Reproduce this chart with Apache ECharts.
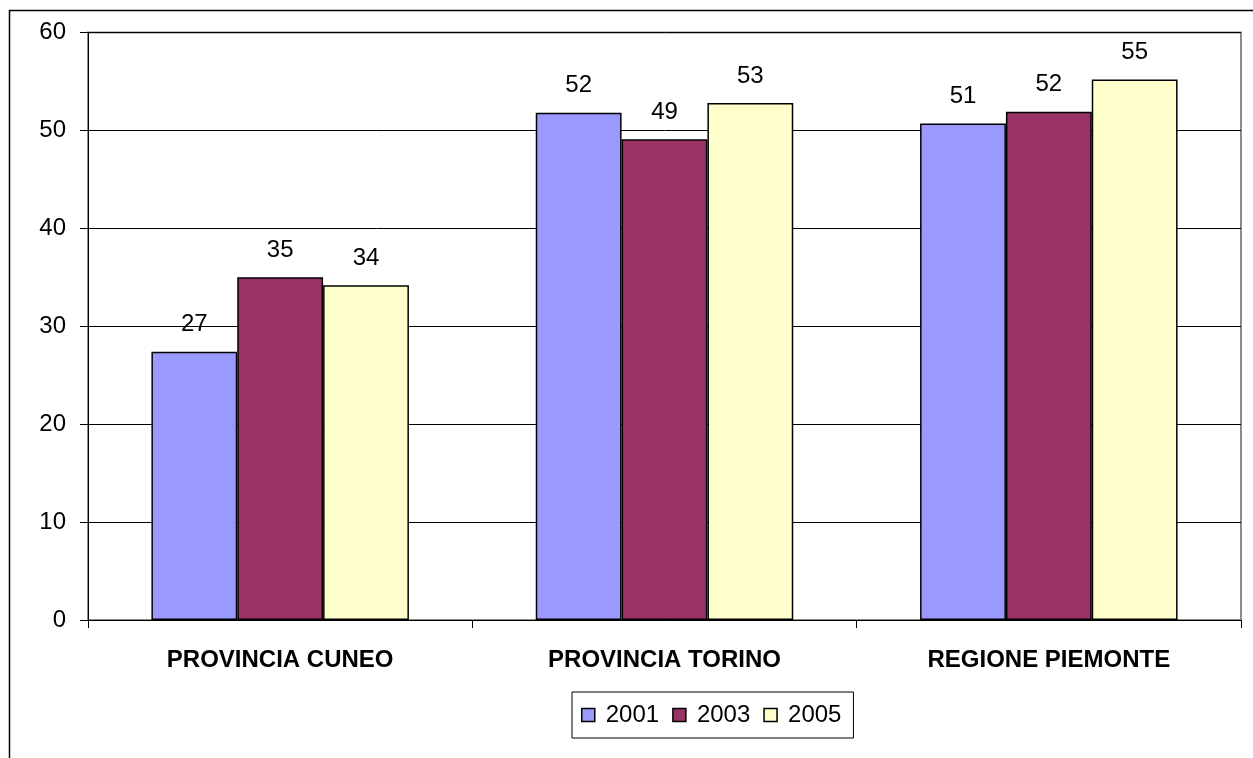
<!DOCTYPE html>
<html>
<head>
<meta charset="utf-8">
<script src="https://cdn.jsdelivr.net/npm/echarts@6/dist/echarts.min.js"></script>
<style>
  html, body { margin: 0; padding: 0; background: #fff; }
  #chart { width: 1253px; height: 758px; }
</style>
</head>
<body>
<div id="chart"></div>
<script>
// Categories and yearly values
const categories = ['PROVINCIA CUNEO', 'PROVINCIA TORINO', 'REGIONE PIEMONTE'];
const years = ['2001', '2003', '2005'];
const values2001 = [27.4, 51.8, 50.7];
const values2003 = [35.0, 49.1, 51.9];
const values2005 = [34.2, 52.8, 55.2];
const yTicks = [0, 10, 20, 30, 40, 50, 60];

const colors = ['#9999FF', '#993366', '#FFFFCC'];
const seriesValues = [values2001, values2003, values2005];
const FONT = '"Liberation Sans", Arial, sans-serif';

const chart = echarts.init(document.getElementById('chart'), null, { renderer: 'canvas' });

const series = years.map((y, i) => ({
  name: y,
  type: 'bar',
  data: seriesValues[i],
  barGap: '0%',
  barCategoryGap: '33%',
  itemStyle: { color: colors[i], borderColor: '#000', borderWidth: 1.5 },
  label: {
    show: true,
    position: 'top',
    distance: 15,
    formatter: p => Math.round(p.value).toString(),
    fontFamily: FONT,
    fontSize: 24,
    color: '#000'
  }
}));

chart.setOption({
  animation: false,
  backgroundColor: '#fff',
  graphic: [{
    // outer chart frame
    type: 'rect',
    shape: { x: 9.5, y: 10.5, width: 1260, height: 770 },
    style: { fill: 'none', stroke: '#000', lineWidth: 1.5 },
    z: -10
  }],
  grid: {
    left: 88, right: 12, top: 32.5, bottom: 138,
    show: true, borderColor: '#8c8c8c', borderWidth: 2, backgroundColor: 'transparent'
  },
  legend: {
    data: years,
    left: 572, top: 692,
    padding: [11, 12, 11, 9],
    itemGap: 13,
    itemWidth: 13, itemHeight: 13,
    icon: 'rect',
    borderColor: '#000', borderWidth: 1, borderRadius: 0,
    backgroundColor: '#fff',
    itemStyle: { borderColor: '#000', borderWidth: 1.5 },
    textStyle: { fontFamily: FONT, fontSize: 24, color: '#000', padding: [0, 0, 0, 6] }
  },
  xAxis: {
    type: 'category',
    data: categories,
    axisLine: { show: true, lineStyle: { color: '#000', width: 1 } },
    axisTick: { show: true, alignWithLabel: false, length: 8, lineStyle: { color: '#000' } },
    axisLabel: { fontFamily: FONT, fontSize: 24, fontWeight: 'bold', color: '#000', margin: 28 }
  },
  yAxis: {
    type: 'value',
    min: 0, max: 60, interval: 10,
    axisLine: { show: true, lineStyle: { color: '#000', width: 1 } },
    axisTick: { show: true, length: 8, lineStyle: { color: '#000' } },
    axisLabel: {
      fontFamily: FONT, fontSize: 24, color: '#000', margin: 22,
      formatter: v => yTicks.includes(v) ? String(v) : ''
    },
    splitLine: { show: true, lineStyle: { color: '#000', width: 1 } }
  },
  series: series
});
</script>
</body>
</html>
